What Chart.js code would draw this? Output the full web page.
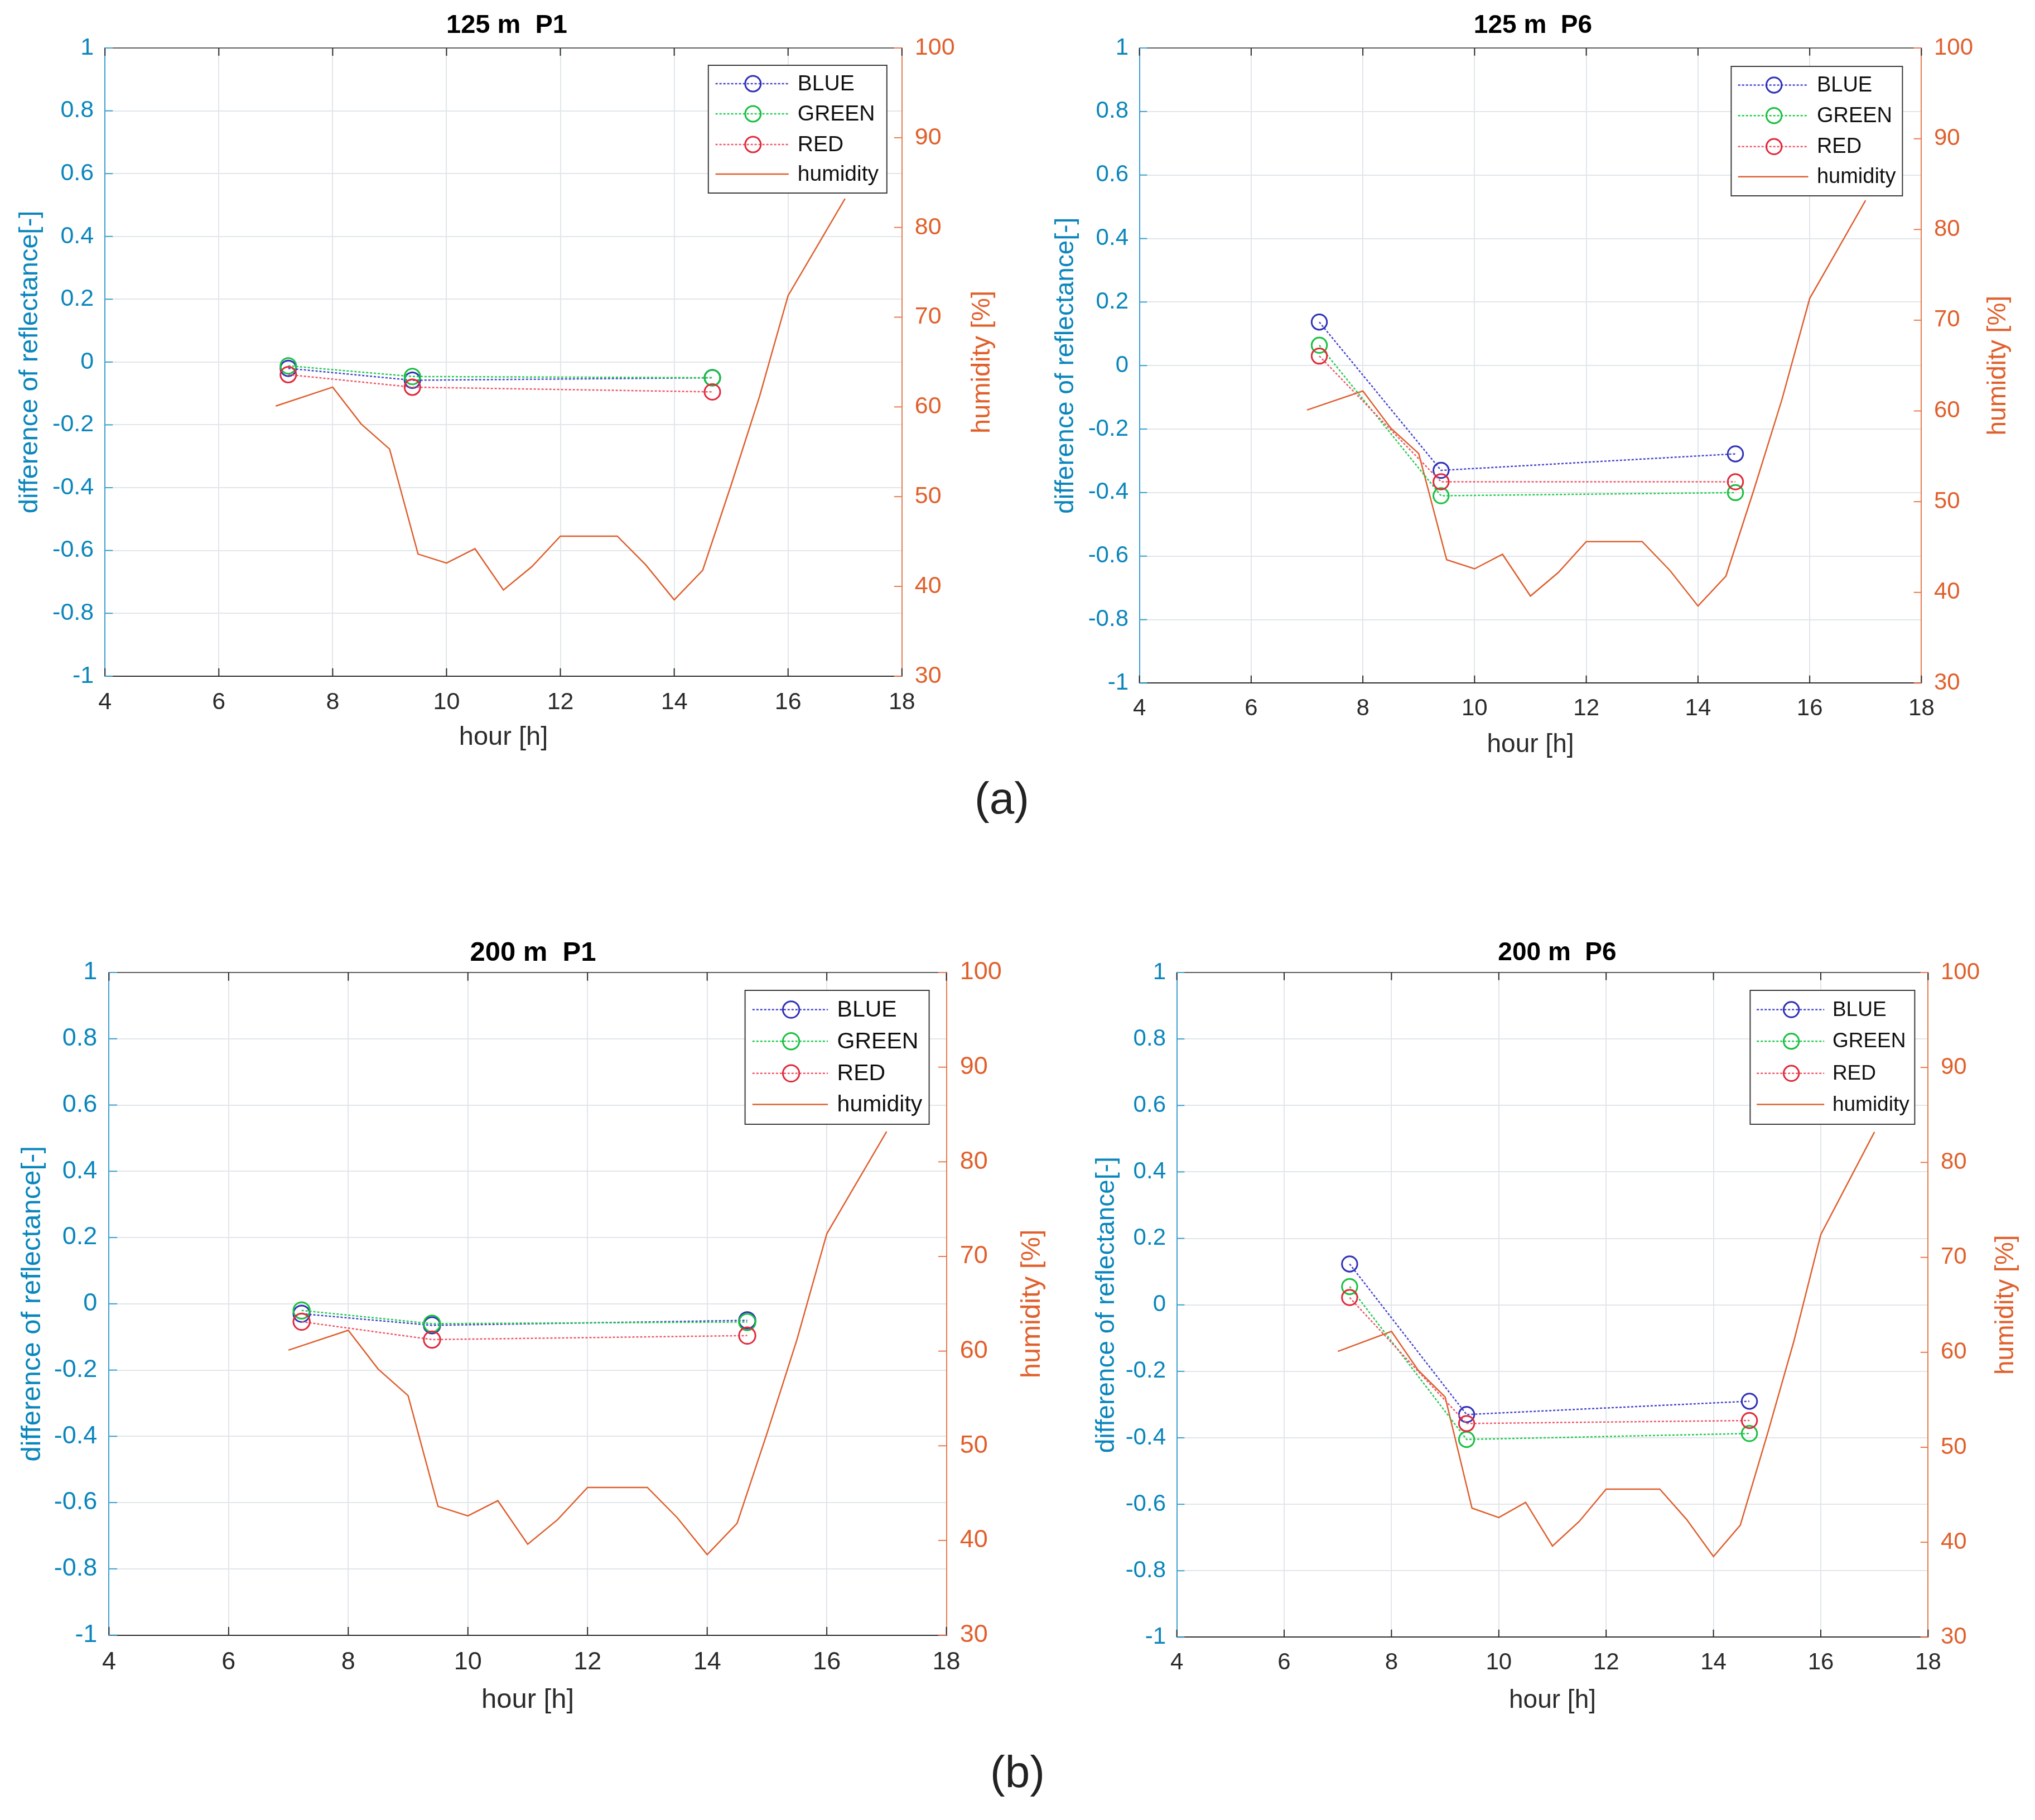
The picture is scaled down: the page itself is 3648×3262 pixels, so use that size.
<!DOCTYPE html>
<html>
<head>
<meta charset="utf-8">
<script src="https://cdn.jsdelivr.net/npm/chart.js@4.4.1/dist/chart.umd.min.js"></script>
<style>
  html, body { margin: 0; padding: 0; background: #fff; }
  body { width: 3648px; height: 3262px; position: relative; overflow: hidden; }
  canvas { position: absolute; }
  .sub { position: absolute; font-family: "Liberation Sans", Arial, sans-serif; font-size: 80px; color: #222; transform: translate(-50%, -50%); }
</style>
</head>
<body>
<div class="sub" style="left:1796px; top:1431px;">(a)</div>
<div class="sub" style="left:1824px; top:3176px;">(b)</div>

<script>
// ---- data ----
const panelTitles = ['125 m  P1', '125 m  P6', '200 m  P1', '200 m  P6'];
const seriesNames = ['BLUE', 'GREEN', 'RED', 'humidity'];

// humidity measurements (same in every panel)
const hours = [7, 8, 8.5, 9, 9.5, 10, 10.5, 11, 11.5, 12, 12.5, 13, 13.5, 14, 14.5, 15, 15.5, 16, 16.5, 17];
const humidity = [60.1, 62.2, 58.1, 55.3, 43.6, 42.6, 44.2, 39.6, 42.2, 45.6, 45.6, 45.6, 42.4, 38.5, 41.8, 51.3, 61.2, 72.4, 77.8, 83.2];

// flight times
const flightHours = [7.22, 9.4, 14.67];

const blue125P1 = [-0.02, -0.058, -0.05];
const green125P1 = [-0.012, -0.046, -0.05];
const red125P1 = [-0.04, -0.08, -0.095];

const blue125P6 = [0.137, -0.33, -0.278];
const green125P6 = [0.064, -0.41, -0.40];
const red125P6 = [0.03, -0.366, -0.366];

const blue200P1 = [-0.03, -0.065, -0.05];
const green200P1 = [-0.02, -0.06, -0.055];
const red200P1 = [-0.054, -0.108, -0.096];

const blue200P6 = [0.123, -0.33, -0.29];
const green200P6 = [0.055, -0.405, -0.387];
const red200P6 = [0.022, -0.357, -0.348];

const xMin = 4, xMax = 18, xStep = 2;
const yMin = -1, yMax = 1, yStep = 0.2;
const hMin = 30, hMax = 100, hStep = 10;

// ---- layout of the four panels (page pixels) ----
const panels = [
  { L: 188, R: 1617, T: 86, B: 1212, f: 1.0, offL: 134, offR: 144, tickOff: 47, xTitleOff: 110, titleOff: 40, leg: { mr: 27, mt: 31, w: 320, h: 229, font: 39 }, th: 86,
    values: [blue125P1, green125P1, red125P1] },
  { L: 2043, R: 3445, T: 86, B: 1224, f: 0.98, offL: 131, offR: 138, tickOff: 46, xTitleOff: 111, titleOff: 40, leg: { mr: 34, mt: 33, w: 307, h: 232, font: 38 }, th: 86,
    values: [blue125P6, green125P6, red125P6] },
  { L: 195, R: 1696, T: 1743, B: 2931, f: 1.05, offL: 137, offR: 154, tickOff: 49, xTitleOff: 117, titleOff: 35, leg: { mr: 31, mt: 32, w: 330, h: 240, font: 41 }, th: 100,
    values: [blue200P1, green200P1, red200P1] },
  { L: 2110, R: 3457, T: 1743, B: 2934, f: 0.98, offL: 125, offR: 140, tickOff: 46, xTitleOff: 114, titleOff: 35, leg: { mr: 24, mt: 32, w: 295, h: 240, font: 37 }, th: 100,
    values: [blue200P6, green200P6, red200P6] }
];

const FONT = '"Liberation Sans", Arial, Helvetica, sans-serif';
const LEFT_COL = '#0B86BC';
const LEFT_LINE = '#3C9FD0';
const RIGHT_COL = '#E0602C';
const RIGHT_LINE = '#E87A4E';
const AXIS_COL = '#2b2b2b';
const GRID_COL = '#E1E6EA';

const lineStyles = [
  { line: '#4646D0', mark: '#3030B8', dash: [4, 3] },
  { line: '#22CC50', mark: '#18C040', dash: [4, 3] },
  { line: '#EE5868', mark: '#E02A3C', dash: [4, 3] },
  { line: '#DF5F2E', mark: null, dash: [] }
];

function fmt(v) {
  if (Math.abs(v) < 1e-9) return '0';
  return String(Number(v.toFixed(1)));
}

const framePlugin = {
  id: 'frame',
  afterDatasetsDraw(chart, args, o) {
    const { ctx, chartArea: a, scales } = chart;
    const tl = 14 * o.f;
    ctx.save();
    ctx.lineWidth = 2;
    // top box edge
    ctx.strokeStyle = '#5c5c5c';
    ctx.beginPath(); ctx.moveTo(a.left, a.top); ctx.lineTo(a.right, a.top); ctx.stroke();
    // inward tick marks
    ctx.strokeStyle = AXIS_COL;
    scales.x.ticks.forEach(t => {
      const px = scales.x.getPixelForValue(t.value);
      ctx.beginPath();
      ctx.moveTo(px, a.bottom); ctx.lineTo(px, a.bottom - tl);
      ctx.moveTo(px, a.top); ctx.lineTo(px, a.top + tl);
      ctx.stroke();
    });
    ctx.strokeStyle = LEFT_LINE;
    scales.y.ticks.forEach(t => {
      const py = scales.y.getPixelForValue(t.value);
      ctx.beginPath(); ctx.moveTo(a.left, py); ctx.lineTo(a.left + tl, py); ctx.stroke();
    });
    ctx.strokeStyle = RIGHT_LINE;
    scales.y2.ticks.forEach(t => {
      const py = scales.y2.getPixelForValue(t.value);
      ctx.beginPath(); ctx.moveTo(a.right, py); ctx.lineTo(a.right - tl, py); ctx.stroke();
    });
    ctx.restore();
  },
  afterDraw(chart, args, o) {
    const { ctx, chartArea: a } = chart;
    ctx.save();
    // right axis title, reading bottom to top
    ctx.translate(a.right + o.offR, (a.top + a.bottom) / 2);
    ctx.rotate(-Math.PI / 2);
    ctx.fillStyle = RIGHT_COL;
    ctx.font = `${Math.round(47 * o.f)}px ${FONT}`;
    ctx.textAlign = 'center';
    ctx.textBaseline = 'middle';
    ctx.fillText('humidity [%]', 0, 0);
    ctx.restore();

    // legend box
    const lg = o.leg;
    const bx = a.right - lg.mr - lg.w, by = a.top + lg.mt;
    ctx.save();
    ctx.fillStyle = '#fff';
    ctx.fillRect(bx, by, lg.w, lg.h);
    ctx.strokeStyle = '#3a3a3a';
    ctx.lineWidth = 2;
    ctx.strokeRect(bx, by, lg.w, lg.h);
    const rows = [0.144, 0.38, 0.62, 0.852];
    ctx.font = `${lg.font}px ${FONT}`;
    ctx.textBaseline = 'middle';
    ctx.textAlign = 'left';
    seriesNames.forEach((name, i) => {
      const st = lineStyles[i];
      const ry = by + rows[i] * lg.h;
      ctx.strokeStyle = st.line;
      ctx.lineWidth = 2.5;
      ctx.setLineDash(st.dash);
      ctx.beginPath(); ctx.moveTo(bx + 0.04 * lg.w, ry); ctx.lineTo(bx + 0.45 * lg.w, ry); ctx.stroke();
      ctx.setLineDash([]);
      if (st.mark) {
        ctx.strokeStyle = st.mark;
        ctx.lineWidth = 3;
        ctx.beginPath(); ctx.arc(bx + 0.25 * lg.w, ry, 14 * o.f, 0, Math.PI * 2); ctx.stroke();
      }
      ctx.fillStyle = '#111';
      ctx.fillText(name, bx + 0.5 * lg.w, ry + 1);
    });
    ctx.restore();
  }
};

panels.forEach((p, idx) => {
  const f = p.f;
  const tickFont = Math.round(43 * f);
  const labFont = Math.round(47 * f);
  const lh = labFont * 1.2;
  const padL = 10;
  const wl = p.offL + lh / 2 + padL;
  const wr = p.offR + lh / 2 + 12;
  const xh = p.xTitleOff + lh / 2 + 10;
  const th = p.th;

  const canvas = document.createElement('canvas');
  const cw = Math.round(wl + (p.R - p.L) + wr);
  const ch = Math.round(th + (p.B - p.T) + xh);
  canvas.width = cw; canvas.height = ch;
  canvas.style.left = (p.L - wl) + 'px';
  canvas.style.top = (p.T - th) + 'px';
  canvas.style.width = cw + 'px';
  canvas.style.height = ch + 'px';
  document.body.appendChild(canvas);

  const datasets = p.values.map((vals, i) => ({
    label: seriesNames[i],
    data: flightHours.map((x, k) => ({ x: x, y: vals[k] })),
    yAxisID: 'y',
    borderColor: lineStyles[i].line,
    borderWidth: 2.5,
    borderDash: lineStyles[i].dash,
    pointRadius: 14 * f,
    pointBorderWidth: 3,
    pointBorderColor: lineStyles[i].mark,
    pointBackgroundColor: 'rgba(0,0,0,0)',
    pointStyle: 'circle',
    fill: false,
    tension: 0,
    order: 2 - i
  }));
  datasets.push({
    label: seriesNames[3],
    data: hours.map((x, k) => ({ x: x, y: humidity[k] })),
    yAxisID: 'y2',
    borderColor: lineStyles[3].line,
    borderWidth: 2.5,
    pointRadius: 0,
    fill: false,
    tension: 0,
    order: 3
  });

  new Chart(canvas.getContext('2d'), {
    type: 'line',
    data: { datasets: datasets },
    options: {
      responsive: false,
      animation: false,
      devicePixelRatio: 1,
      layout: { padding: 0 },
      plugins: {
        legend: { display: false },
        tooltip: { enabled: false },
        title: {
          display: true,
          text: panelTitles[idx],
          color: '#000',
          font: { family: FONT, size: labFont, weight: 'bold' },
          padding: { top: th - lh - (p.titleOff - lh / 2), bottom: p.titleOff - lh / 2 }
        },
        frame: { f: f, offR: p.offR, leg: p.leg }
      },
      scales: {
        x: {
          type: 'linear',
          position: 'bottom',
          min: xMin, max: xMax,
          afterFit: s => { s.height = xh; },
          ticks: {
            stepSize: xStep,
            color: AXIS_COL,
            padding: p.tickOff - tickFont * 0.6,
            font: { family: FONT, size: tickFont },
            maxRotation: 0
          },
          grid: { color: GRID_COL, lineWidth: 2, drawTicks: false },
          border: { color: AXIS_COL, width: 2 },
          title: {
            display: true, text: 'hour [h]', color: AXIS_COL,
            font: { family: FONT, size: labFont },
            padding: { top: 0, bottom: 10 }
          }
        },
        y: {
          type: 'linear',
          position: 'left',
          min: yMin, max: yMax,
          afterFit: s => { s.width = wl; },
          ticks: {
            stepSize: yStep,
            color: LEFT_COL,
            padding: 20 * f,
            font: { family: FONT, size: tickFont },
            callback: v => fmt(v)
          },
          grid: { color: GRID_COL, lineWidth: 2, drawTicks: false },
          border: { color: LEFT_LINE, width: 2 },
          title: {
            display: true, text: 'difference of reflectance[-]', color: LEFT_COL,
            font: { family: FONT, size: labFont },
            padding: { top: padL, bottom: 0 }
          }
        },
        y2: {
          type: 'linear',
          position: 'right',
          min: hMin, max: hMax,
          afterFit: s => { s.width = wr; },
          ticks: {
            stepSize: hStep,
            color: RIGHT_COL,
            padding: 23 * f,
            font: { family: FONT, size: tickFont }
          },
          grid: { display: false, drawTicks: false },
          border: { color: RIGHT_LINE, width: 2 },
          title: { display: false }
        }
      }
    },
    plugins: [framePlugin]
  });
});
</script>
</body>
</html>
